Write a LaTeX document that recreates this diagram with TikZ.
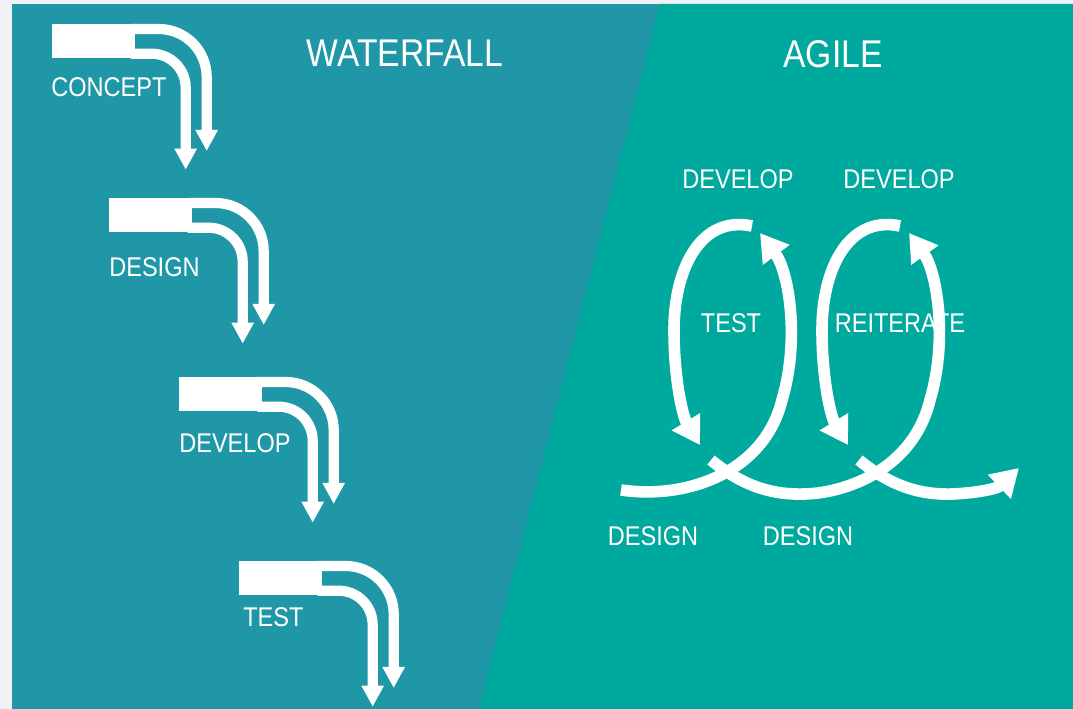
\documentclass[tikz,border=0pt]{standalone}
\usepackage{fontspec}
\setmainfont{Liberation Sans}[FakeStretch=0.87]
\usepackage{tikz}
\usetikzlibrary{arrows.meta}
\definecolor{mybgcolor}{HTML}{F0F0F5}
\definecolor{mywfcolor}{HTML}{1F97A7}
\definecolor{myagilecolor}{HTML}{00A99D}
\tikzset{
  wfbar/.style={fill=white, rectangle, anchor=north west, inner sep=0pt, minimum width=1.66cm, minimum height=0.68cm},
  wfband/.style={draw=white, line width=5.8pt, rounded corners=#1, -{Triangle[width=12pt, length=12pt]}},
  agband/.style={draw=white, line width=6.6pt, -{Triangle[width=18pt, length=15.5pt]}},
  steplabel/.style={text=white, anchor=base west, inner sep=0pt, font=\fontsize{15.4pt}{15.4pt}\selectfont},
  looplabel/.style={text=white, anchor=base, inner sep=0pt, font=\fontsize{15.4pt}{15.4pt}\selectfont},
  headlabel/.style={text=white, anchor=base, inner sep=0pt, font=\fontsize{22pt}{22pt}\selectfont}
}

\begin{document}
\begin{tikzpicture}[x=0.02cm, y=-0.02cm]%
\useasboundingbox (0,0) rectangle (1073,709);%
\fill[mybgcolor] (0,0) rectangle (1073,709);%
\fill[mywfcolor] (12,4) rectangle (1073,709);%
\fill[myagilecolor] (660,4) -- (1073,4) -- (1073,709) -- (479,709) -- cycle;%
% waterfall
\node[headlabel] (wftitle) at (405,67) {WATERFALL};%
\node[wfbar] (concept) at (52,24) {};%
\draw[wfband=0.96cm] ([xshift=-0.1cm, yshift=-0.1cm]concept.north east) -| ++(76,122);%
\draw[wfband=0.68cm] ([xshift=-0.1cm, yshift=0.1cm]concept.south east) -| ++(55,116);%
\node[steplabel] (conceptlbl) at (51,97) {CONCEPT};%
\node[wfbar] (design) at (109,198) {};%
\draw[wfband=0.96cm] ([xshift=-0.1cm, yshift=-0.1cm]design.north east) -| ++(76,122);%
\draw[wfband=0.68cm] ([xshift=-0.1cm, yshift=0.1cm]design.south east) -| ++(55,116);%
\node[steplabel] (designlbl) at (109,277) {DESIGN};%
\node[wfbar] (develop) at (179,377) {};%
\draw[wfband=0.96cm] ([xshift=-0.1cm, yshift=-0.1cm]develop.north east) -| ++(76,122);%
\draw[wfband=0.68cm] ([xshift=-0.1cm, yshift=0.1cm]develop.south east) -| ++(55,116);%
\node[steplabel] (developlbl) at (179,453) {DEVELOP};%
\node[wfbar] (test) at (239,561) {};%
\draw[wfband=0.96cm] ([xshift=-0.1cm, yshift=-0.1cm]test.north east) -| ++(76,122);%
\draw[wfband=0.68cm] ([xshift=-0.1cm, yshift=0.1cm]test.south east) -| ++(55,116);%
\node[steplabel] (testlbl) at (243,627) {TEST};%
% agile
\node[headlabel] (agiletitle) at (833,68) {AGILE};%
\node[looplabel] (developa) at (738,189) {DEVELOP};%
\node[looplabel] (developb) at (899,189) {DEVELOP};%
\node[looplabel] (testloop) at (731,333) {TEST};%
\node[looplabel] (reiterate) at (900,333) {REITERATE};%
\node[looplabel] (designa) at (653,546) {DESIGN};%
\node[looplabel] (designb) at (808,546) {DESIGN};%
\draw[agband] (621,490) .. controls (690,500) and (765,470) .. (782,400) .. controls (800,340) and (789,272) .. (760,233);%
\draw[agband] (752,226) .. controls (700,215) and (674,270) .. (674,330) .. controls (674,380) and (683,417) .. (700,445);%
\draw[agband] (711,460) .. controls (745,488) and (775,495) .. (805,494) .. controls (845,493) and (913,470) .. (930,400) .. controls (948,340) and (937,272) .. (909,233);%
\draw[agband] (900,226) .. controls (848,215) and (822,270) .. (822,330) .. controls (822,380) and (831,417) .. (848,445);%
\draw[agband] (859,460) .. controls (893,488) and (923,495) .. (953,494) .. controls (975,493) and (997,489) .. (1019,468);%
\end{tikzpicture}
\end{document}
